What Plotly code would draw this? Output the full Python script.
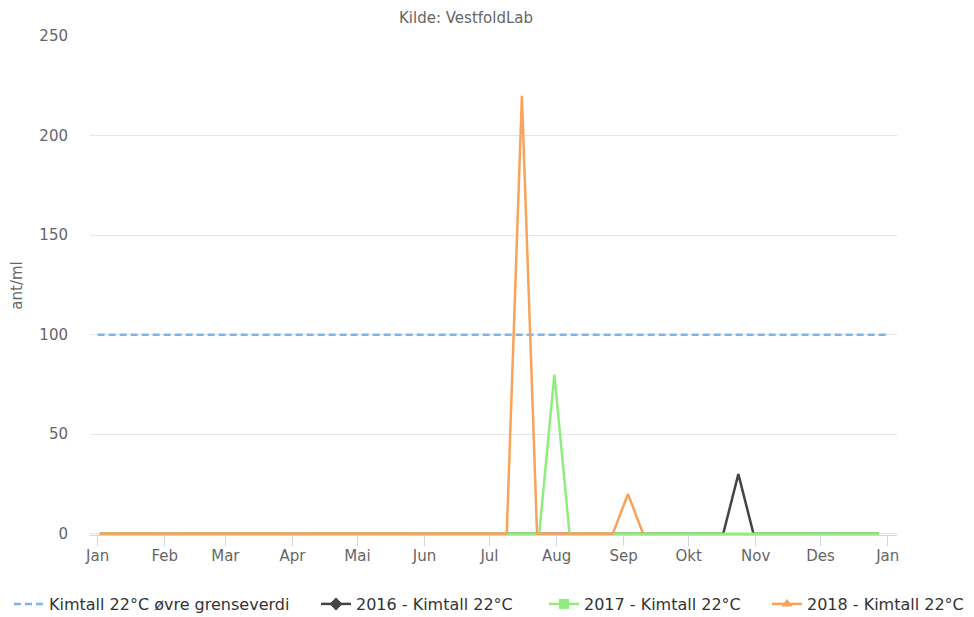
import plotly.graph_objects as go

# ---- data ----
limit_dates = ["2018-01-01", "2019-01-01"]
limit_values = [100, 100]

dates_2016 = ["2018-01-02", "2018-10-17", "2018-10-24", "2018-10-31", "2018-12-28"]
values_2016 = [0, 0, 30, 0, 0]

dates_2017 = ["2018-01-02", "2018-07-24", "2018-07-31", "2018-08-07", "2018-12-28"]
values_2017 = [0, 0, 80, 0, 0]

dates_2018 = ["2018-01-02", "2018-07-09", "2018-07-16", "2018-07-23", "2018-08-27", "2018-09-03", "2018-09-10"]
values_2018 = [0, 0, 220, 0, 0, 20, 0]

month_ticks = ["2018-01-01", "2018-02-01", "2018-03-01", "2018-04-01", "2018-05-01", "2018-06-01",
               "2018-07-01", "2018-08-01", "2018-09-01", "2018-10-01", "2018-11-01", "2018-12-01",
               "2019-01-01"]
month_labels = ["Jan", "Feb", "Mar", "Apr", "Mai", "Jun", "Jul", "Aug", "Sep", "Okt", "Nov", "Des", "Jan"]
y_ticks = [0, 50, 100, 150, 200, 250]

names = ["Kimtall 22°C øvre grenseverdi", "2016 - Kimtall 22°C", "2017 - Kimtall 22°C", "2018 - Kimtall 22°C"]
colors = ["#7cb5ec", "#434348", "#90ed7d", "#f7a35c"]
symbols = [None, "diamond", "square", "triangle-up"]

FONT = "DejaVu Sans"
W, H = 974, 617
ML, MR, MT, MB = 90, 77, 36, 81.5
PW, PH = W - ML - MR, H - MT - MB
LEGEND_X_PX = [15, 322, 550, 773]   # left edge of each legend symbol
LEGEND_Y_PX = 604

fig = go.Figure()

series = [(limit_dates, limit_values), (dates_2016, values_2016),
          (dates_2017, values_2017), (dates_2018, values_2018)]

for i, (xs, ys) in enumerate(series):
    fig.add_trace(go.Scatter(
        x=xs, y=ys, mode="lines", name=names[i], showlegend=False,
        line=dict(color=colors[i], width=2.5, dash="7px,4px" if i == 0 else "solid"),
        hoverinfo="x+y",
    ))

legend_names = ["legend", "legend2", "legend3", "legend4"]
for i in range(4):
    if symbols[i] is None:
        fig.add_trace(go.Scatter(
            x=[None], y=[None], mode="lines", name=names[i], legend=legend_names[i],
            line=dict(color=colors[i], width=2.5, dash="7px,4px")))
    else:
        fig.add_trace(go.Scatter(
            x=[None], y=[None], mode="lines+markers", name=names[i], legend=legend_names[i],
            line=dict(color=colors[i], width=2.5),
            marker=dict(symbol=symbols[i], size=10, color=colors[i])))

legend_common = dict(orientation="h", xref="container", yref="container",
                     xanchor="left", yanchor="middle", y=(H - LEGEND_Y_PX) / H,
                     font=dict(size=16, color="#333333"), itemwidth=30,
                     bgcolor="rgba(0,0,0,0)")

layout_legends = {}
for i, ln in enumerate(legend_names):
    layout_legends[ln] = dict(legend_common, x=(LEGEND_X_PX[i] - 6) / W)

fig.update_layout(
    width=W, height=H,
    margin=dict(l=ML, r=MR, t=MT, b=MB, autoexpand=False),
    paper_bgcolor="white", plot_bgcolor="white",
    font=dict(family=FONT, color="#666666", size=15),
    showlegend=True,
    annotations=[dict(text="Kilde: VestfoldLab", xref="paper", yref="paper",
                      x=(466 - ML) / PW, y=1 + (MT - 18) / PH,
                      xanchor="center", yanchor="middle",
                      showarrow=False, font=dict(size=15, color="#666666"))],
    **layout_legends,
)

fig.update_xaxes(
    type="date",
    range=["2017-12-28 11:00", "2019-01-05 07:00"],
    tickvals=month_ticks, ticktext=month_labels,
    ticks="outside", ticklen=10, tickcolor="#ccd6eb", tickwidth=1,
    showline=True, linecolor="#ccd6eb", linewidth=1,
    showgrid=False, zeroline=False, layer="below traces",
    ticklabelstandoff=-3,
    tickfont=dict(size=15, color="#666666"),
)
fig.update_yaxes(
    range=[-0.6, 250], tickvals=y_ticks,
    showgrid=True, gridcolor="#e6e6e6", gridwidth=1,
    zeroline=False, showline=False, ticks="",
    ticklabelstandoff=21,
    tickfont=dict(size=15, color="#666666"),
    title=dict(text="ant/ml", font=dict(size=15, color="#666666"), standoff=13),
)

fig.write_html("out.html", config={"displayModeBar": False},
               post_script="document.body.style.margin='0';document.body.style.padding='0';")
